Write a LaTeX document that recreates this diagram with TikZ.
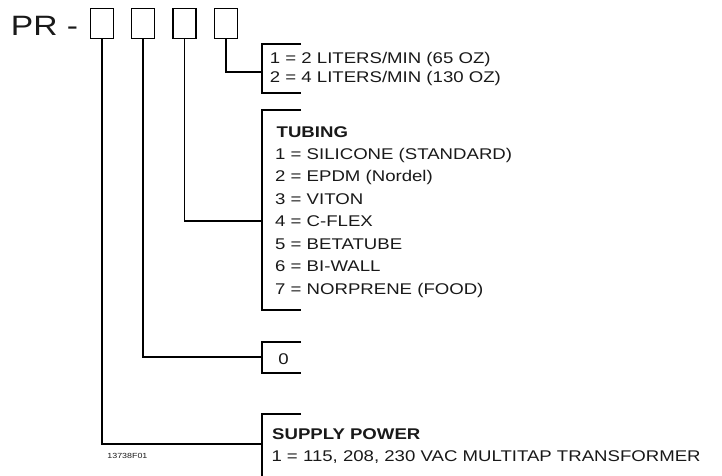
\documentclass[tikz,border=0pt]{standalone}
\usepackage{fontspec}
\setmainfont{Liberation Sans}[FakeStretch=1.2]
\begin{document}
\begin{tikzpicture}[x=1pt,y=-1pt]
\tikzset{
  digitbox/.style={draw, line width=1.6pt, minimum width=23pt, minimum height=30pt, inner sep=0pt},
  conn/.style={line width=1.6pt},
  brk/.style={line width=1.8pt},
  lbl/.style={anchor=base west, inner sep=0pt, text=black!90, font=\fontsize{15.5}{18}\selectfont},
  hdr/.style={lbl, font=\fontsize{15.5}{18}\selectfont\bfseries},
}
\useasboundingbox (0,0) rectangle (722,475);

% title and digit boxes
\node[anchor=base west, inner sep=0pt, text=black!90, font=\fontsize{28}{30}\selectfont] (pr) at (10.7,35) {PR -};
\node[digitbox] (d1) at (102,23.5) {};
\node[digitbox] (d2) at (143,23.5) {};
\node[digitbox] (d3) at (184.5,23.5) {};
\node[digitbox] (d4) at (226,23.5) {};

% bracket join points
\coordinate (j4) at (262,72);
\coordinate (j3) at (262,221);
\coordinate (j2) at (262,357);
\coordinate (j1) at (262,444);

% brackets
\draw[brk] (301,44) -- (262,44) -- (262,93) -- (301,93);
\draw[brk] (301,110) -- (262,110) -- (262,310) -- (301,310);
\draw[brk] (301,342) -- (262,342) -- (262,373) -- (301,373);
\draw[brk] (301,414) -- (262,414) -- (262,476);

% connectors
\draw[conn] (d4.south) |- (j4);
\draw[conn] (d3.south) |- (j3);
\draw[conn] (d2.south) |- (j2);
\draw[conn] (d1.south) |- (j1);

% flow rate
\node[lbl] (f1) at (269.7,63.5) {1 = 2 LITERS/MIN (65 OZ)};
\node[lbl] (f2) at (269.7,82) {2 = 4 LITERS/MIN (130 OZ)};

% tubing
\node[hdr] (th) at (276.5,137) {TUBING};
\node[lbl] (t1) at (275,159.4) {1 = SILICONE (STANDARD)};
\node[lbl] (t2) at (275,181.9) {2 = EPDM (Nordel)};
\node[lbl] (t3) at (275,204.3) {3 = VITON};
\node[lbl] (t4) at (275,226.7) {4 = C-FLEX};
\node[lbl] (t5) at (275,249.2) {5 = BETATUBE};
\node[lbl] (t6) at (275,271.6) {6 = BI-WALL};
\node[lbl] (t7) at (275,294) {7 = NORPRENE (FOOD)};

% zero
\node[lbl] (z) at (278.2,364) {0};

% supply power
\node[hdr] (sh) at (272,439) {SUPPLY POWER};
\node[lbl] (s1) at (271.3,461.5) {1 = 115, 208, 230 VAC MULTITAP TRANSFORMER};

% figure number
\node[anchor=base west, inner sep=0pt, text=black!90, font=\fontsize{7.4}{9}\selectfont] (fig) at (107.2,458) {13738F01};
\end{tikzpicture}
\end{document}
